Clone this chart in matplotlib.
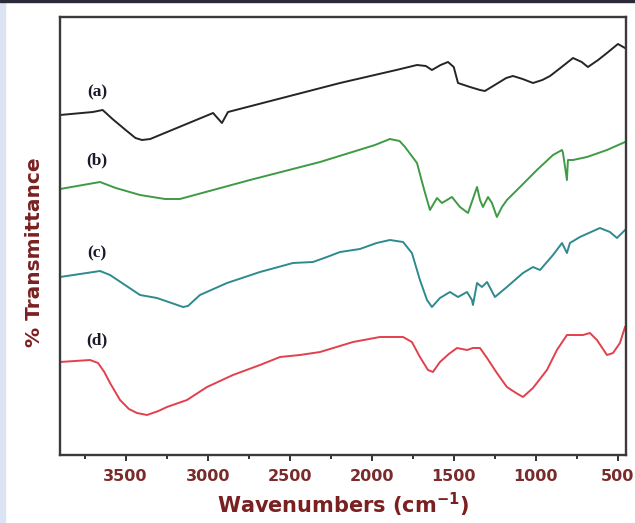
import numpy as np
import matplotlib
matplotlib.use("Agg")
import matplotlib.pyplot as plt
from matplotlib.patches import Rectangle

# FTIR spectra, wavenumber (cm-1) vs transmittance (arbitrary offset units)
wn_a = [3900, 3700, 3640, 3580, 3500, 3440, 3400, 3350, 2967, 2913, 2876, 2193,
        1850, 1724, 1670, 1633, 1580, 1535, 1500, 1474, 1401, 1340, 1310, 1250,
        1180, 1139, 1080, 1017, 960, 913, 850, 773, 720, 682, 620, 566, 499, 456]
t_a = [340, 343, 345, 336, 325, 317, 315, 316, 342, 332, 343, 372,
       385, 390, 389, 385, 390, 393, 388, 372, 368, 365, 364, 370,
       377, 379, 376, 372, 375, 379, 387, 397, 393, 388, 395, 402, 411, 407]

wn_b = [3900, 3656, 3560, 3412, 3260, 3169, 2742, 2315, 1980, 1889, 1830, 1797,
        1724, 1680, 1645, 1602, 1572, 1511, 1462, 1413, 1358, 1340, 1322, 1291,
        1267, 1237, 1206, 1176, 1096, 993, 895, 840, 834, 810, 804, 773, 688, 566, 456]
t_b = [266, 273, 267, 260, 256, 256, 275, 293, 310, 316, 314, 308,
       292, 265, 245, 257, 252, 258, 248, 242, 268, 255, 248, 258,
       252, 238, 248, 255, 268, 285, 300, 305, 302, 275, 295, 295, 298, 305, 313]

wn_c = [3900, 3656, 3595, 3412, 3309, 3150, 3120, 3047, 2882, 2681, 2480, 2358,
        2273, 2193, 2072, 1970, 1889, 1809, 1755, 1706, 1663, 1633, 1584, 1523, 1474,
        1419, 1389, 1383, 1358, 1328, 1297, 1249, 1176, 1078, 1017, 974, 895,
        840, 810, 792, 731, 609, 548, 505, 456]
t_c = [178, 184, 180, 160, 157, 148, 149, 160, 172, 183, 192, 193,
       198, 203, 206, 212, 215, 213, 202, 175, 155, 148, 157, 163, 158,
       163, 155, 150, 172, 168, 173, 158, 168, 182, 188, 185, 200,
       212, 202, 212, 218, 227, 223, 217, 225]

wn_d = [3900, 3717, 3668, 3630, 3595, 3534, 3480, 3431, 3370, 3300, 3248, 3126, 3004,
        2846, 2681, 2559, 2437, 2315, 2114, 1950, 1809, 1755, 1706, 1657, 1627, 1584,
        1530, 1480, 1419, 1383, 1340, 1297, 1237, 1176, 1120, 1078, 1017, 932, 871,
        810, 712, 670, 627, 566, 529, 487, 456]
t_d = [93, 95, 92, 83, 72, 55, 46, 42, 40, 44, 48, 55, 68,
       80, 90, 98, 100, 103, 113, 118, 118, 113, 98, 85, 83, 93,
       101, 107, 105, 107, 107, 97, 82, 68, 62, 58, 67, 85, 105,
       120, 120, 122, 115, 100, 102, 112, 128]

labels = ["(a)", "(b)", "(c)", "(d)"]
label_y = [363, 295, 202, 115]
colors = ["#252525", "#3f9a45", "#2e8a8e", "#e2404c"]
series = [(wn_a, t_a), (wn_b, t_b), (wn_c, t_c), (wn_d, t_d)]

fig = plt.figure(figsize=(6.35, 5.23), dpi=100)
fig.patches.append(Rectangle((0, 0), 5 / 635, 1, transform=fig.transFigure,
                             color="#dce3f2", zorder=0))
fig.patches.append(Rectangle((0, 1 - 2 / 523), 1, 2 / 523, transform=fig.transFigure,
                             color="#2a2a3a", zorder=0))

ax = fig.add_axes([60 / 635, 68 / 523, 566 / 635, 438 / 523])

for (x, y), c in zip(series, colors):
    ax.plot(x, y, color=c, lw=1.4, solid_joinstyle="round")

for lab, ly in zip(labels, label_y):
    ax.text(3675, ly, lab, fontsize=12.5, fontweight="bold", family="Liberation Serif",
            color="#1a1a2a", ha="center", va="center")

ax.set_xlim(3900, 450)
ax.set_ylim(0, 438)
ax.set_yticks([])
ax.set_xticks([3500, 3000, 2500, 2000, 1500, 1000, 500])
ax.set_xticks(np.arange(3750, 400, -500), minor=True)
ax.tick_params(axis="x", which="major", length=4, width=1.4, color="#333333",
               labelsize=11.5, labelcolor="#7a2b2b", pad=6)
ax.tick_params(axis="x", which="minor", length=3, width=1.4, color="#333333")
for lbl in ax.get_xticklabels():
    lbl.set_fontweight("bold")
for sp in ax.spines.values():
    sp.set_linewidth(1.7)
    sp.set_color("#3a3a3a")

ax.set_xlabel("Wavenumbers (cm$^{\\mathbf{-1}}$)", fontsize=15, fontweight="bold",
              color="#7a2020", labelpad=5)
ax.set_ylabel("% Transmittance", fontsize=14.5, fontweight="bold", color="#7a2020")
ax.yaxis.set_label_coords(-0.029, 0.463)

fig.savefig("out.png", dpi=100)
